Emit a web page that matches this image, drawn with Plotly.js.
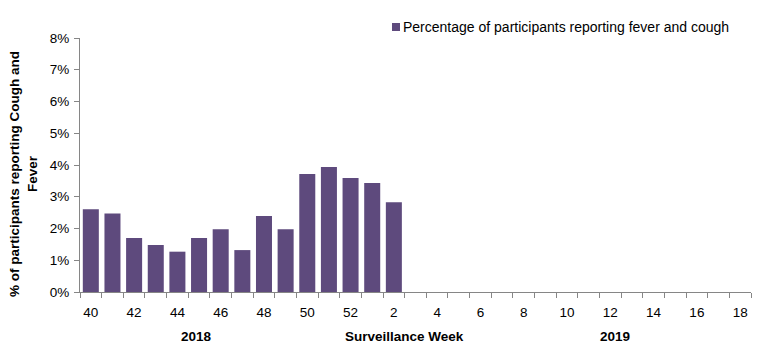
<!DOCTYPE html>
<html><head><meta charset="utf-8">
<script src="https://cdn.plot.ly/plotly-3.0.1.min.js"></script>
<style>html,body{margin:0;padding:0;background:#fff}#c{width:773px;height:349px}</style>
</head><body><div id="c"></div>
<script>
const weeks = ["40","41","42","43","44","45","46","47","48","49","50","51","52","1","2","3","4","5","6","7","8","9","10","11","12","13","14","15","16","17","18"];
const pct = [2.61,2.47,1.70,1.48,1.27,1.70,1.98,1.32,2.39,1.98,3.72,3.94,3.59,3.43,2.83,null,null,null,null,null,null,null,null,null,null,null,null,null,null,null,null];
const seriesName = "Percentage of participants reporting fever and cough";
const yTicks = [0,1,2,3,4,5,6,7,8];
const yTickText = yTicks.map(v => v + "%");
const labelWeeks = weeks.filter((w,i) => i % 2 === 0);

const font = "Liberation Sans, Arial, sans-serif";
const axisColor = "#868686";
const barColor = "#5E4A7D";

const data = [{
  type: "bar", x: weeks, y: pct,
  name: seriesName, marker: {color: barColor}, xaxis: "x", yaxis: "y", showlegend: false
}, {type: "scatter", x: weeks, y: weeks.map(() => null), xaxis: "x2", yaxis: "y", showlegend: false, hoverinfo: "skip"}];

const px = v => (v - 80) / 671, py = v => (292 - v) / 254;

const layout = {
  width: 773, height: 349,
  margin: {l: 80, r: 22, t: 38, b: 57},
  paper_bgcolor: "#fff", plot_bgcolor: "#fff",
  font: {family: font, size: 13, color: "#000"},
  bargap: 0.26,
  showlegend: false,
  xaxis: {type: "category", categoryorder: "array", categoryarray: weeks, range: [-0.5, 30.5],
          tickmode: "array", tickvals: labelWeeks, ticktext: labelWeeks, ticks: "", ticklabelstandoff: 8,
          showline: true, linecolor: axisColor, linewidth: 1, showgrid: false, zeroline: false,
          tickfont: {family: font, size: 13.5, color: "#000"}},
  xaxis2: {type: "category", categoryorder: "array", categoryarray: weeks, range: [-0.5, 30.5],
           overlaying: "x", side: "bottom", tickson: "boundaries", ticks: "outside", ticklen: 5,
           tickcolor: axisColor, showticklabels: false, showline: false, showgrid: false, zeroline: false,
           tickmode: "linear", dtick: 1, anchor: "y"},
  yaxis: {range: [0, 8], tickmode: "array", tickvals: yTicks, ticktext: yTickText, ticklabelstandoff: 2,
          ticks: "outside", ticklen: 5, tickcolor: axisColor, showline: true, linecolor: axisColor,
          showgrid: false, zeroline: false, tickfont: {family: font, size: 13.5, color: "#000"}},
  shapes: [
    {type: "rect", xref: "paper", yref: "paper", x0: px(392), x1: px(400), y0: py(31), y1: py(23),
     fillcolor: barColor, line: {width: 0}}
  ],
  annotations: [
    {text: seriesName, xref: "paper", yref: "paper", x: px(401), y: py(27), xanchor: "left", yanchor: "middle",
     showarrow: false, font: {family: font, size: 14, color: "#000"}},
    {text: "<b>% of participants reporting Cough and<br>Fever</b>", textangle: -90, xref: "paper", yref: "paper",
     x: px(24), y: py(174), xanchor: "center", yanchor: "middle", showarrow: false, align: "center",
     font: {family: font, size: 13.5, color: "#000"}},
    {text: "<b>2018</b>", xref: "paper", yref: "paper", x: px(196), y: py(336), xanchor: "center", yanchor: "middle", showarrow: false, font: {family: font, size: 13.5}},
    {text: "<b>Surveillance Week</b>", xref: "paper", yref: "paper", x: px(404), y: py(336), xanchor: "center", yanchor: "middle", showarrow: false, font: {family: font, size: 13.5}},
    {text: "<b>2019</b>", xref: "paper", yref: "paper", x: px(615), y: py(336), xanchor: "center", yanchor: "middle", showarrow: false, font: {family: font, size: 13.5}}
  ]
};
Plotly.newPlot("c", data, layout, {displayModeBar: false, staticPlot: true});
</script></body></html>
